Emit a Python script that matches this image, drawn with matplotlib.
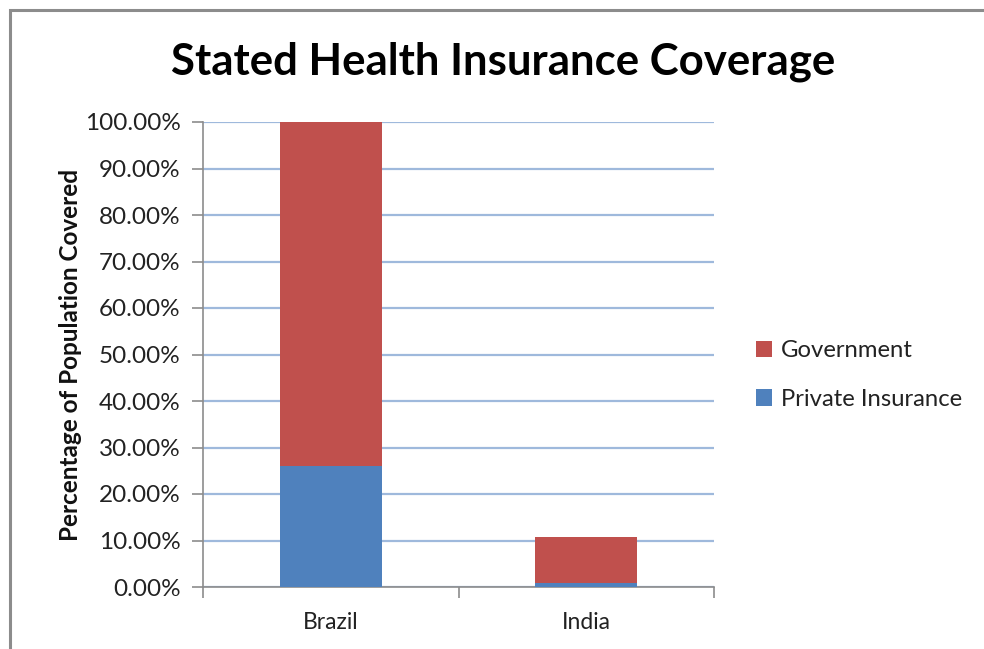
import matplotlib
matplotlib.use("Agg")
import matplotlib.pyplot as plt
from matplotlib.patches import Rectangle
from matplotlib.ticker import FuncFormatter, FixedLocator

categories = ["Brazil", "India"]
private_insurance = [0.261, 0.008]
government = [0.739, 0.100]
yticks = [0.0, 0.1, 0.2, 0.3, 0.4, 0.5, 0.6, 0.7, 0.8, 0.9, 1.0]

plt.rcParams['font.family'] = ['Lato', 'DejaVu Sans']

W, H = 984, 649
fig = plt.figure(figsize=(W / 100, H / 100), dpi=100)
fig.patch.set_facecolor('white')

# outer chart frame (only top/left visible)
fig.patches.append(Rectangle((9.5 / W, -0.1), 1.2, 1 - 9.5 / H + 0.1, transform=fig.transFigure,
                             fill=False, edgecolor='#8c8c8c', linewidth=2.2))

ax = fig.add_axes([203 / W, 1 - 587 / H, (714 - 203) / W, (587 - 122) / H])
x = [0, 1]
blue = '#4f81bd'
red = '#c0504d'
ax.bar(x, private_insurance, width=0.4, color=blue, label='Private Insurance', zorder=3)
ax.bar(x, government, width=0.4, bottom=private_insurance, color=red, label='Government', zorder=3)

ax.set_xlim(-0.5, 1.5)
ax.set_ylim(0, 1.0)
ax.yaxis.set_major_locator(FixedLocator(yticks))
ax.yaxis.set_major_formatter(FuncFormatter(lambda v, p: f"{v * 100:.2f}%"))
ax.grid(axis='y', color='#9fb9dc', linewidth=1.6, zorder=0)
ax.set_axisbelow(True)

ax.set_xticks(x)
ax.set_xticklabels(categories)
ax.xaxis.set_minor_locator(FixedLocator([-0.5, 0.5, 1.5]))
ax.tick_params(axis='x', which='major', length=0, pad=18, labelsize=16.5, labelcolor='#222222')
ax.tick_params(axis='x', which='minor', length=8, width=1.2, color='#8c8c8c', direction='out')
ax.tick_params(axis='y', length=8, width=1.2, color='#8c8c8c', direction='out', pad=8,
               labelsize=17.5, labelcolor='#222222')

for s in ['top', 'right']:
    ax.spines[s].set_visible(False)
for s in ['left', 'bottom']:
    ax.spines[s].set_color('#8c8c8c')
    ax.spines[s].set_linewidth(1.2)

ax.set_ylabel('Percentage of Population Covered', fontsize=17.5, fontweight='bold',
              color='#111111', labelpad=2)

fig.text(503 / W, 1 - 62 / H, 'Stated Health Insurance Coverage', ha='center', va='center',
         fontsize=31.5, fontweight='bold', color='black')

handles, labels = ax.get_legend_handles_labels()
leg = fig.legend(handles[::-1], labels[::-1], loc='center left',
                 bbox_to_anchor=(734 / W, 1 - 375 / H), frameon=False, fontsize=17.2,
                 handlelength=0.7, handleheight=0.7, handletextpad=0.35, labelspacing=1.15)
for t in leg.get_texts():
    t.set_color('#222222')

fig.savefig('out.png', dpi=100, facecolor='white')
